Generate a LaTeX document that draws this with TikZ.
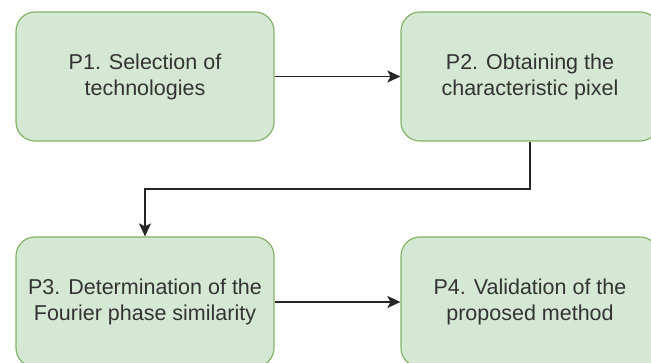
\documentclass[tikz,border=0pt]{standalone}
\usepackage{fontspec}
\setmainfont{Liberation Sans}
\usetikzlibrary{arrows.meta}
\definecolor{boxfill}{HTML}{D5E8D4}
\definecolor{boxline}{HTML}{82B366}
\definecolor{txt}{HTML}{333333}
\begin{document}
\begin{tikzpicture}[x=1pt,y=1pt,
  stepbox/.style={draw=boxline,fill=boxfill,line width=1.2pt,rounded corners=19pt,
    minimum width=258pt,minimum height=129pt,inner sep=0pt,align=center,
    text=txt,font=\fontsize{21.5}{26}\selectfont},
  conn/.style={draw=black!85,line width=1.4pt,-{Stealth[length=13pt,width=12pt,inset=3pt]}}]
\useasboundingbox (0,0) rectangle (651,363);
\clip (0,0) rectangle (651,363);
\node[stepbox] (p1) at (145,286.5) {P1. Selection of\\technologies};
\node[stepbox] (p2) at (530,286.5) {P2. Obtaining the\\characteristic pixel};
\node[stepbox,minimum height=130pt] (p3) at (145,61) {P3. Determination of the\\Fourier phase similarity};
\node[stepbox,minimum height=130pt] (p4) at (530,61) {P4. Validation of the\\proposed method};
\coordinate (b1) at (530,174);
\coordinate (b2) at (145,174);
\draw[conn] (p1) -- (p2);
\draw[conn] (p2.south) -- (b1) -- (b2) -- (p3.north);
\draw[conn] (p3) -- (p4);
\end{tikzpicture}
\end{document}
